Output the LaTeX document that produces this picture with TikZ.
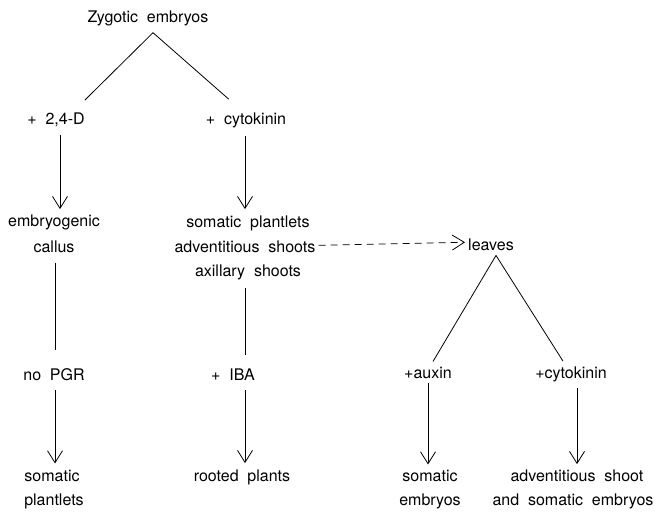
\documentclass[tikz,border=0pt]{standalone}
\usepackage{fontspec}
\setmainfont{TeX Gyre Heros}
\usetikzlibrary{arrows.meta,calc}
\newcommand\lblfont{\fontsize{16}{19}\selectfont\spaceskip=8.8pt plus 1pt minus 1pt\relax}
\tikzset{
  lbl/.style={anchor=base,inner sep=0pt,font=\lblfont},
  conn/.style={line width=0.8pt},
  arr/.style={conn,-{Straight Barb[length=12pt,width=15pt,line width=0.8pt]}},
  darr/.style={arr,dash pattern=on 7pt off 5pt}
}
\begin{document}
\begin{tikzpicture}[x=1pt,y=-1pt]
\useasboundingbox (0,0) rectangle (656,512);
% nodes
\node[lbl] (zyg) at (148,22) {Zygotic embryos};
\node[lbl] (d24) at (56,124) {+ 2,4-D};
\node[lbl] (cyt) at (246,124) {+ cytokinin};
\node[lbl] (emb) at (54,226) {embryogenic};
\node[lbl] (cal) at (54,252) {callus};
\node[lbl] (sp) at (248,227) {somatic plantlets};
\node[lbl] (adv) at (245,252) {adventitious shoots};
\node[lbl] (axi) at (248,276) {axillary shoots};
\node[lbl] (leaves) at (491,250) {leaves};
\node[lbl] (nopgr) at (54,380) {no PGR};
\node[lbl] (iba) at (233,380) {+ IBA};
\node[lbl] (aux) at (428,378) {+auxin};
\node[lbl] (cytb) at (571,378) {+cytokinin};
\node[lbl] (somp) at (52,481) {somatic};
\node[lbl] (plts) at (54,505) {plantlets};
\node[lbl] (root) at (242,481) {rooted plants};
\node[lbl] (some) at (430,481) {somatic};
\node[lbl] (embs) at (430,505) {embryos};
\node[lbl] (advs) at (577,481) {adventitious shoot};
\node[lbl] (ands) at (573,505) {and somatic embryos};
% connectors
\draw[conn] ($(zyg.south)+(5,7)$) -- ($(d24.north east)+(0,-12)$);
\draw[conn] ($(zyg.south)+(5,7)$) -- ($(cyt.north west)+(23,-13)$);
\draw[arr] ($(d24.south)+(4,8)$) -- ($(emb.north)+(6,-5)$);
\draw[arr] ($(cyt.south)+(-1,8)$) -- ($(sp.north)+(-3,-6)$);
\draw[conn] ($(cal.south)+(1,11)$) -- ($(nopgr.north)+(1,-18)$);
\draw[conn] ($(axi.south)+(-3,8)$) -- ($(iba.north)+(12,-13)$);
\draw[arr] ($(nopgr.south)+(1,10)$) -- ($(somp.north)+(3,-6)$);
\draw[arr] ($(iba.south)+(12,10)$) -- ($(root.north)+(3,-6)$);
\draw[darr] ($(adv.east)+(3,-1)$) -- ($(leaves.west)+(-3,-2)$);
\draw[conn] ($(leaves.south)+(5,5)$) -- ($(aux.north)+(5,-5)$);
\draw[conn] ($(leaves.south)+(5,5)$) -- ($(cytb.north)+(-8,-5)$);
\draw[arr] ($(aux.south)+(0,5)$) -- ($(some.north)+(-2,-5)$);
\draw[arr] ($(cytb.south)+(6,6)$) -- ($(advs.north)+(0,-5)$);
\end{tikzpicture}
\end{document}
